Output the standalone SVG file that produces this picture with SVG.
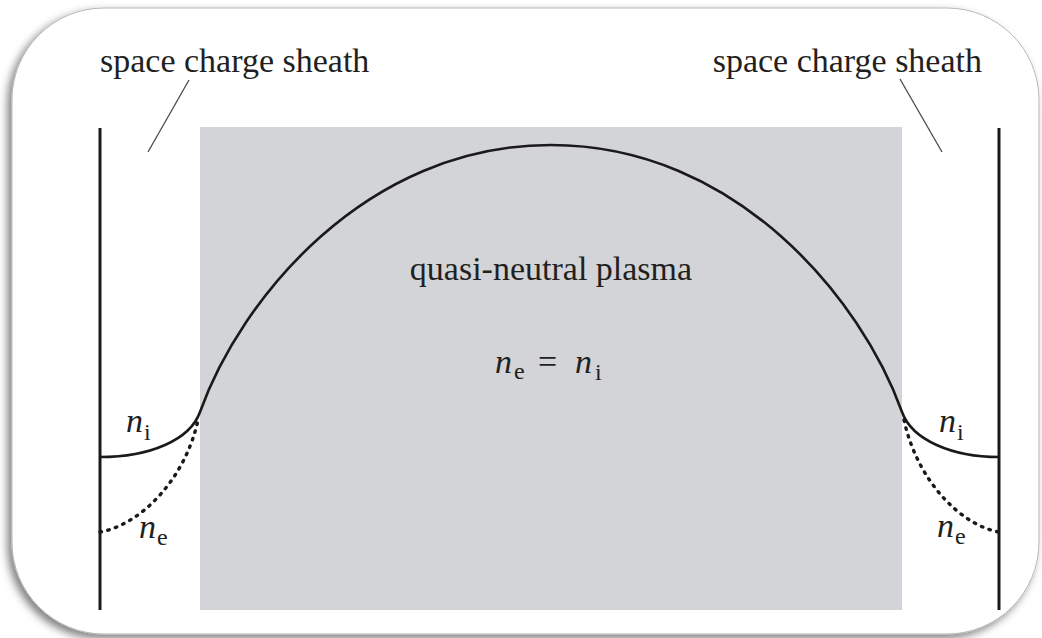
<svg xmlns="http://www.w3.org/2000/svg" width="1042" height="638" viewBox="0 0 1042 638">
  <defs>
    <filter id="shadow" x="-5%" y="-5%" width="110%" height="112%">
      <feDropShadow dx="-4" dy="4" stdDeviation="4" flood-color="#000" flood-opacity="0.5"/>
    </filter>
  </defs>
  <style>
    text { font-family: 'Liberation Serif', 'DejaVu Serif', 'Times New Roman', serif; fill: #231f20; font-size: 34px; }
    .it { font-style: italic; }
    .sub { font-size: 24px; font-style: normal; }
    .wall { stroke: #1a1a1a; stroke-width: 3; fill: none; }
    .solid { stroke: #1a1a1a; stroke-width: 2.6; fill: none; }
    .dot { stroke: #1a1a1a; stroke-width: 3.4; fill: none; stroke-dasharray: 1.5 6.5; stroke-linecap: round; }
    .lead { stroke: #4a4a4a; stroke-width: 1.3; fill: none; }
  </style>
  <rect width="1042" height="638" fill="#ffffff"/>
  <g id="frame">
    <rect x="12" y="8" width="1027" height="626" rx="92" ry="92" fill="#ffffff" stroke="#b8b8b8" stroke-width="1" filter="url(#shadow)"/>
  </g>
  <g id="plasma">
    <rect x="200" y="127" width="702" height="483" fill="#d3d4d7"/>
    <text font-family="Liberation Serif, serif" x="551" y="280" text-anchor="middle">quasi-neutral plasma</text>
    <text font-family="Liberation Serif, serif" class="it" x="495" y="373">n</text>
    <text font-family="Liberation Serif, serif" class="sub" x="514" y="379">e</text>
    <text font-family="Liberation Serif, serif" x="538" y="373">=</text>
    <text font-family="Liberation Serif, serif" class="it" x="575" y="373">n</text>
    <text font-family="Liberation Serif, serif" class="sub" x="595" y="380">i</text>
  </g>
  <g id="left-wall">
    <line class="wall" x1="100" y1="128" x2="100" y2="610"/>
  </g>
  <g id="right-wall">
    <line class="wall" x1="999" y1="128" x2="999" y2="610"/>
  </g>
  <g id="left-sheath-label">
    <text font-family="Liberation Serif, serif" x="100" y="72">space charge sheath</text>
  </g>
  <g id="right-sheath-label">
    <text font-family="Liberation Serif, serif" x="982" y="72" text-anchor="end">space charge sheath</text>
  </g>
  <g id="density-labels">
    <text font-family="Liberation Serif, serif" class="it" x="126" y="432">n</text>
    <text font-family="Liberation Serif, serif" class="sub" x="144" y="440">i</text>
    <text font-family="Liberation Serif, serif" class="it" x="139" y="538">n</text>
    <text font-family="Liberation Serif, serif" class="sub" x="157" y="545">e</text>
    <text font-family="Liberation Serif, serif" class="it" x="939" y="432">n</text>
    <text font-family="Liberation Serif, serif" class="sub" x="957" y="440">i</text>
    <text font-family="Liberation Serif, serif" class="it" x="937" y="537">n</text>
    <text font-family="Liberation Serif, serif" class="sub" x="955" y="544">e</text>
  </g>
  <g id="connectors">
    <line class="lead" x1="189" y1="80" x2="148" y2="152"/>
    <line class="lead" x1="900" y1="79" x2="942" y2="152"/>
    <path class="solid" d="M100,457 C150,457 190,440 200,412 C240,300 365,145 551,145 C737,145 862,300 902,412 C912,440 952,457 999,457"/>
    <path class="dot" d="M100,532 C140,525 185,480 198,420"/>
    <path class="dot" d="M904,420 C917,480 960,525 999,532"/>
  </g>
</svg>
